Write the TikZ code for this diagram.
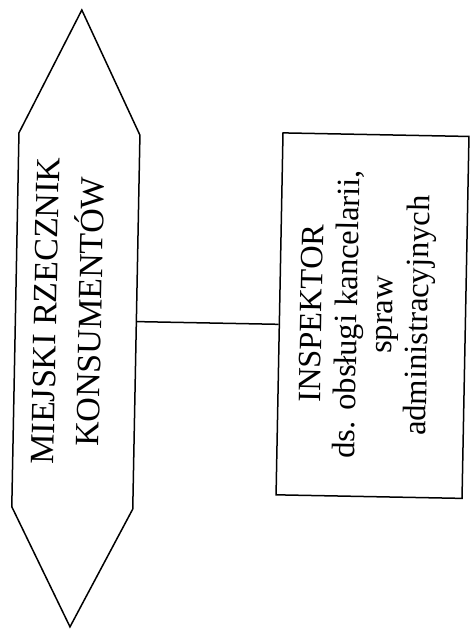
\documentclass[tikz,border=0pt]{standalone}
\usepackage{fontspec}
\setmainfont{Liberation Serif}
\begin{document}
\begin{tikzpicture}[x=1pt,y=-1pt,line width=1.5pt,
  hexfont/.style={font=\fontsize{34}{45}\selectfont},
  boxfont/.style={font=\fontsize{32.5}{35.3}\selectfont},
  vlabel/.style={rotate=90,align=center,inner sep=0pt},
  boxshape/.style={draw,inner sep=0pt,minimum width=186pt,minimum height=362pt}]
\useasboundingbox (0,0) rectangle (470,631);
\begin{scope}[rotate around={-1.1:(235,315)},transform shape]
  % hexagon
  \coordinate (hN)  at (76,13);
  \coordinate (hNE) at (136.5,137);
  \coordinate (hSE) at (136.5,511);
  \coordinate (hS)  at (76,630);
  \coordinate (hSW) at (15.5,511);
  \coordinate (hNW) at (15.5,137);
  \coordinate (hE)  at (136.5,323.5);
  \draw[line join=miter] (hN) -- (hNE) -- (hSE) -- (hS) -- (hSW) -- (hNW) -- cycle;
  \node[vlabel,hexfont] (hextext) at (68,314.5) {MIEJSKI RZECZNIK\\KONSUMENTÓW};
  % box
  \node[boxshape] (box) at (372.5,313) {};
  \node[vlabel,boxfont] (boxtext) at (367.5,312) {INSPEKTOR\\ds. obsługi kancelarii,\\spraw\\administracyjnych};
  % connector
  \draw (hE) -- (hE -| box.west);
\end{scope}
\end{tikzpicture}
\end{document}
